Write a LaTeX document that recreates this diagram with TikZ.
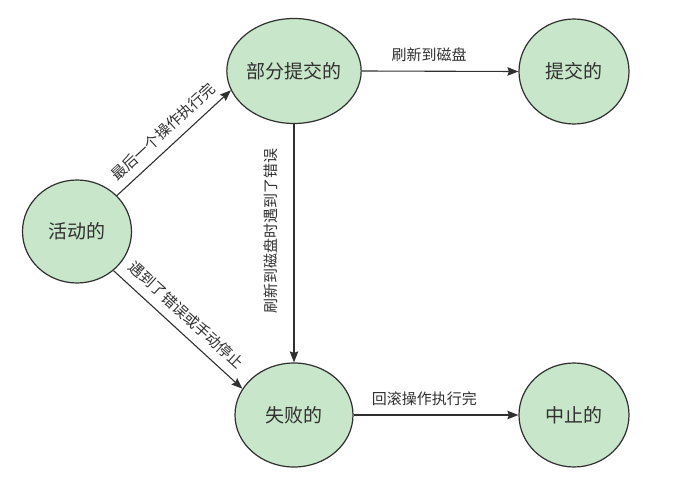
\documentclass[tikz,border=0pt]{standalone}
\usepackage{fontspec}
\setmainfont{Noto Sans CJK SC}
\usetikzlibrary{shapes.geometric,arrows.meta}
\definecolor{nodefill}{HTML}{C8E6C9}
\definecolor{ink}{HTML}{303030}
\tikzset{
  state/.style={ellipse, draw=ink, fill=nodefill, line width=1.2pt, inner sep=0pt,
    text=ink, font=\fontsize{19}{21}\selectfont},
  conn/.style={draw=ink, line width=1.1pt, -{Stealth[length=11pt,width=8.5pt,inset=1.5pt]}},
  lbl/.style={text=ink, inner sep=0pt, font=\fontsize{15}{17}\selectfont}
}
\begin{document}
\begin{tikzpicture}[x=1pt,y=-1pt]
\useasboundingbox (0,0) rectangle (683,487);
\node[state, minimum width=109pt, minimum height=103pt] (act) at (77,231.5) {活动的};
\node[state, minimum width=118pt, minimum height=105pt] (part) at (294,71) {部分提交的};
\node[state, minimum width=110pt, minimum height=105pt] (comm) at (574,71.5) {提交的};
\node[state, minimum width=118pt, minimum height=104pt] (fail) at (294,415) {失败的};
\node[state, minimum width=110pt, minimum height=104pt] (abort) at (574,415) {中止的};

\draw[conn] (act.42) -- node[lbl, midway, sloped, above=8pt] {最后一个操作执行完} (part.197);
\draw[conn] (act.-47) -- node[lbl, pos=0.48, sloped, above=9pt] {遇到了错误或手动停止} (fail.153);
\draw[conn] (part.south) -- node[lbl, pos=0.45, xshift=-23pt, rotate=90] {刷新到磁盘时遇到了错误} (fail.north);
\draw[conn] (part.east) -- node[lbl, pos=0.43, above=9pt] {刷新到磁盘} (comm.west);
\draw[conn] (fail.east) -- node[lbl, pos=0.43, above=9pt] {回滚操作执行完} (abort.west);
\end{tikzpicture}
\end{document}
